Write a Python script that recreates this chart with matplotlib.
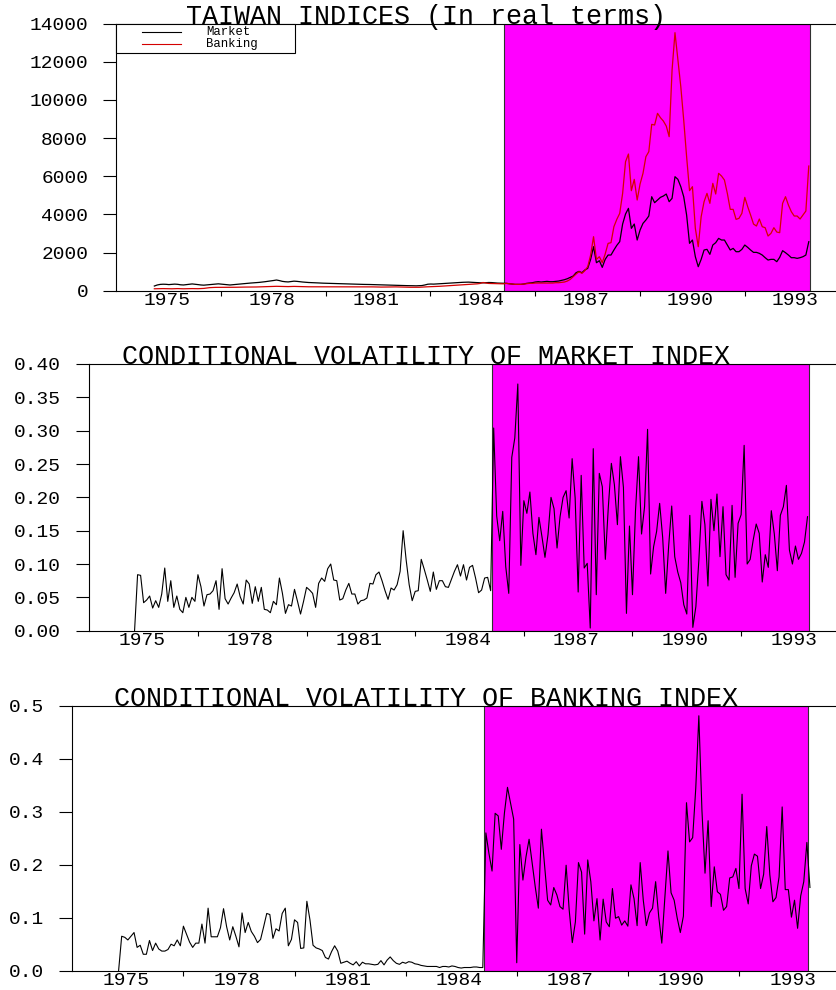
import numpy as np
import matplotlib
matplotlib.use('Agg')
import matplotlib.pyplot as plt
from matplotlib.patches import Rectangle
from matplotlib.lines import Line2D
from matplotlib.ticker import FormatStrFormatter

plt.rcParams['font.family'] = ['Liberation Mono', 'DejaVu Sans Mono']

# ---- data (monthly, decimal-year start of each series) ----
index_start = 1974.64
vol_start = 1974.80
shade_start, shade_end = 1984.67, 1993.42

year_labels = [1975, 1978, 1981, 1984, 1987, 1990, 1993]

market_index = [
    245, 300, 330, 340, 335, 320, 330, 345, 335, 310,
    300, 320, 340, 355, 340, 320, 300, 290, 305, 320,
    335, 350, 360, 345, 330, 310, 300, 315, 330, 345,
    360, 375, 390, 400, 410, 420, 435, 450, 470, 490,
    510, 535, 560, 530, 490, 470, 460, 480, 500, 490,
    470, 455, 440, 430, 425, 420, 410, 400, 395, 390,
    385, 380, 375, 370, 365, 360, 355, 350, 345, 340,
    340, 335, 330, 330, 325, 320, 315, 310, 305, 300,
    300, 295, 290, 285, 280, 275, 270, 265, 265, 260,
    255, 260, 270, 300, 340, 350, 345, 355, 370, 380,
    385, 390, 400, 410, 420, 430, 440, 445, 450, 440,
    430, 420, 415, 410, 420, 430, 425, 410, 400, 395,
    390,
    385, 367, 350, 332, 332, 332, 350, 385, 402, 420,
    455, 472, 455, 472, 490, 472, 472, 490, 507, 542,
    577, 629, 699, 769, 944, 1014, 944, 1084, 1171, 1643,
    2307, 1468, 1573, 1224, 1643, 1870, 1870, 2133, 2377, 2570,
    3496, 4020, 4318, 3269, 3496, 2657, 3181, 3531, 3706, 3916,
    4929, 4615, 4755, 4894, 4964, 5069, 4667, 4842, 5978, 5838,
    5454, 4929, 3968, 2482, 2657, 1783, 1258, 1643, 2133, 2168,
    1905, 2395, 2517, 2744, 2657, 2657, 2395, 2133, 2220, 2045,
    2045, 2168, 2395, 2272, 2133, 2010, 2010, 1958, 1870, 1731,
    1608, 1643, 1643, 1521, 1748, 2098, 1993, 1870, 1731, 1731,
    1696, 1731, 1783, 1870, 2570,
]

banking_index = [
    100, 105, 105, 110, 105, 100, 100, 105, 110, 105,
    100, 105, 110, 110, 105, 105, 110, 120, 140, 160,
    170, 175, 175, 170, 175, 180, 180, 175, 180, 185,
    185, 190, 190, 185, 190, 195, 200, 205, 210, 215,
    220, 225, 230, 225, 220, 215, 215, 220, 225, 220,
    215, 210, 210, 205, 205, 210, 210, 205, 205, 200,
    200, 205, 205, 210, 210, 205, 205, 200, 200, 205,
    205, 210, 210, 205, 200, 200, 195, 195, 190, 190,
    195, 195, 200, 200, 195, 190, 185, 185, 180, 180,
    175, 180, 190, 200, 205, 210, 215, 220, 230, 240,
    250, 260, 270, 280, 290, 300, 310, 320, 330, 340,
    350, 360, 380, 430, 400, 380, 375, 370, 365, 360,
    360,
    385, 367, 350, 332, 332, 332, 350, 367, 385, 385,
    402, 402, 402, 402, 402, 402, 402, 420, 420, 437,
    455, 507, 594, 734, 874, 996, 909, 1049, 1259, 1870,
    2832, 1643, 1783, 1468, 1923, 2482, 2517, 3356, 3741, 4055,
    5104, 6765, 7167, 5244, 5838, 4755, 5594, 6153, 7027, 7289,
    8722, 8688, 9300, 9072, 8897, 8635, 8076, 11572, 13530, 12096,
    10698, 8950, 7027, 5244, 5454, 3269, 2307, 3881, 4667, 5104,
    4580, 5629, 5069, 6153, 6013, 5803, 5104, 4265, 4265, 3741,
    3793, 4055, 4894, 4405, 3968, 3496, 3391, 3758, 3356, 3304,
    2867, 3007, 3304, 3076, 3042, 4580, 4929, 4492, 4143, 3916,
    3916, 3758, 3968, 4178, 6537,
]

market_vol = [
    0.0, 0.084, 0.083, 0.042, 0.046, 0.052, 0.034, 0.045, 0.035, 0.055,
    0.094, 0.044, 0.075, 0.035, 0.052, 0.032, 0.027, 0.050, 0.035, 0.050,
    0.044, 0.084, 0.066, 0.037, 0.054, 0.055, 0.060, 0.075, 0.032, 0.093,
    0.048, 0.040, 0.049, 0.057, 0.070, 0.051, 0.040, 0.076, 0.070, 0.041,
    0.066, 0.044, 0.065, 0.032, 0.031, 0.027, 0.044, 0.039, 0.079, 0.056,
    0.026, 0.039, 0.037, 0.062, 0.044, 0.025, 0.044, 0.065, 0.061, 0.056,
    0.035, 0.071, 0.079, 0.074, 0.093, 0.100, 0.076, 0.075, 0.046, 0.048,
    0.061, 0.071, 0.055, 0.055, 0.040, 0.045, 0.046, 0.049, 0.071, 0.070,
    0.084, 0.088, 0.075, 0.060, 0.047, 0.064, 0.061, 0.069, 0.089, 0.150,
    0.106, 0.069, 0.045, 0.059, 0.060, 0.107, 0.092, 0.076, 0.059, 0.088,
    0.062, 0.075, 0.075, 0.066, 0.065, 0.077, 0.089, 0.099, 0.082, 0.099,
    0.076, 0.095, 0.098, 0.079, 0.057, 0.061, 0.079, 0.080, 0.060,
    0.304, 0.172, 0.135, 0.179, 0.096, 0.056, 0.260, 0.289, 0.370, 0.098,
    0.195, 0.176, 0.208, 0.146, 0.114, 0.170, 0.141, 0.110, 0.144, 0.200,
    0.183, 0.124, 0.171, 0.200, 0.210, 0.169, 0.258, 0.199, 0.058, 0.233,
    0.094, 0.101, 0.004, 0.273, 0.054, 0.236, 0.216, 0.107, 0.186, 0.251,
    0.219, 0.159, 0.261, 0.215, 0.026, 0.157, 0.054, 0.180, 0.261, 0.145,
    0.186, 0.302, 0.085, 0.126, 0.149, 0.191, 0.140, 0.056, 0.128, 0.187,
    0.111, 0.088, 0.072, 0.039, 0.025, 0.173, 0.005, 0.036, 0.106, 0.194,
    0.159, 0.067, 0.197, 0.150, 0.205, 0.111, 0.186, 0.084, 0.076, 0.188,
    0.080, 0.161, 0.174, 0.278, 0.100, 0.107, 0.136, 0.160, 0.146, 0.073,
    0.114, 0.095, 0.180, 0.145, 0.090, 0.173, 0.186, 0.218, 0.121, 0.100,
    0.127, 0.107, 0.116, 0.133, 0.171,
]

banking_vol = [
    0.0, 0.065, 0.063, 0.058, 0.065, 0.072, 0.044, 0.048, 0.031, 0.031,
    0.057, 0.038, 0.052, 0.041, 0.037, 0.037, 0.040, 0.050, 0.047, 0.058,
    0.047, 0.084, 0.069, 0.054, 0.044, 0.052, 0.052, 0.088, 0.052, 0.118,
    0.064, 0.064, 0.064, 0.081, 0.117, 0.083, 0.058, 0.083, 0.065, 0.045,
    0.109, 0.072, 0.091, 0.074, 0.065, 0.053, 0.059, 0.083, 0.108, 0.106,
    0.061, 0.079, 0.075, 0.108, 0.118, 0.047, 0.059, 0.096, 0.091, 0.042,
    0.043, 0.131, 0.096, 0.048, 0.043, 0.041, 0.038, 0.025, 0.022, 0.036,
    0.047, 0.037, 0.014, 0.016, 0.018, 0.014, 0.011, 0.017, 0.009, 0.016,
    0.013, 0.013, 0.012, 0.011, 0.012, 0.019, 0.011, 0.020, 0.026, 0.019,
    0.014, 0.012, 0.016, 0.014, 0.017, 0.016, 0.013, 0.012, 0.010, 0.009,
    0.008, 0.008, 0.008, 0.008, 0.006, 0.008, 0.008, 0.007, 0.009, 0.008,
    0.006, 0.005, 0.006, 0.006, 0.006, 0.007, 0.007, 0.006, 0.006,
    0.260, 0.221, 0.188, 0.297, 0.292, 0.229, 0.297, 0.346, 0.316, 0.286,
    0.015, 0.238, 0.171, 0.215, 0.248, 0.203, 0.158, 0.118, 0.267, 0.199,
    0.133, 0.124, 0.157, 0.143, 0.121, 0.116, 0.199, 0.114, 0.053, 0.092,
    0.204, 0.186, 0.069, 0.209, 0.168, 0.094, 0.136, 0.058, 0.135, 0.092,
    0.083, 0.155, 0.099, 0.102, 0.086, 0.094, 0.084, 0.162, 0.136, 0.085,
    0.204, 0.133, 0.085, 0.109, 0.118, 0.168, 0.102, 0.052, 0.140, 0.226,
    0.147, 0.133, 0.099, 0.072, 0.103, 0.317, 0.243, 0.251, 0.344, 0.481,
    0.303, 0.184, 0.283, 0.121, 0.196, 0.149, 0.144, 0.114, 0.121, 0.175,
    0.177, 0.193, 0.155, 0.333, 0.155, 0.126, 0.198, 0.220, 0.216, 0.155,
    0.182, 0.272, 0.181, 0.130, 0.138, 0.177, 0.309, 0.153, 0.153, 0.101,
    0.133, 0.080, 0.141, 0.168, 0.242, 0.157,
]

index_t = index_start + np.arange(len(market_index)) / 12
mvol_t = vol_start + np.arange(len(market_vol)) / 12
bvol_t = vol_start + np.arange(len(banking_vol)) / 12

# ---- figure layout in pixels ----
W, H = 836, 990
fig = plt.figure(figsize=(W / 100, H / 100), dpi=100)


def px_rect(left, top, right, bottom):
    return [left / W, 1 - bottom / H, (right - left) / W, (bottom - top) / H]


def style_axes(ax, ymax, ystep, fmt):
    ax.set_xlim(1973.55, 1994.17)
    ax.set_ylim(0, ymax)
    ax.axvspan(shade_start, shade_end, facecolor='#ff00ff', edgecolor='#303030',
               lw=0.8, zorder=1)
    ax.spines['right'].set_visible(False)
    for s in ['left', 'top', 'bottom']:
        ax.spines[s].set_linewidth(0.8)
        ax.spines[s].set_zorder(3)
    ax.set_yticks(np.arange(0, ymax + ystep / 2, ystep))
    ax.yaxis.set_major_formatter(FormatStrFormatter(fmt))
    ax.set_xticks(year_labels)
    ax.set_xticks([y + 1.55 for y in year_labels[:-1]], minor=True)
    ax.tick_params(axis='y', direction='out', length=9.4, width=0.8, pad=10.8,
                   labelsize=14)
    ax.tick_params(axis='x', which='major', length=0, pad=1, labelsize=14)
    ax.tick_params(axis='x', which='minor', direction='out', length=3.5, width=0.8)


# Panel 1: indices
ax1 = fig.add_axes(px_rect(116.3, 23.7, 836, 290.7))
style_axes(ax1, 14000, 2000, '%d')
ax1.plot(index_t, market_index, color='black', lw=0.9, zorder=2)
ax1.plot(index_t, banking_index, color='#d40000', lw=0.9, zorder=2)

# Panel 2: market volatility
ax2 = fig.add_axes(px_rect(89.3, 364, 836, 630.7))
style_axes(ax2, 0.40, 0.05, '%.2f')
ax2.plot(mvol_t, market_vol, color='black', lw=0.8, zorder=2)

# Panel 3: banking volatility
ax3 = fig.add_axes(px_rect(72.3, 705.7, 836, 970.7))
style_axes(ax3, 0.5, 0.1, '%.1f')
ax3.plot(bvol_t, banking_vol, color='black', lw=0.8, zorder=2)

# titles sitting on the top frame line
titles = [('TAIWAN INDICES (In real terms)', 23.7),
          ('CONDITIONAL VOLATILITY OF MARKET INDEX', 364),
          ('CONDITIONAL VOLATILITY OF BANKING INDEX', 705.7)]
for text, ypx in titles:
    fig.text(425.5 / W, 1 - ypx / H, text, ha='center', va='baseline',
             fontsize=19.25)

# legend box (top left of first panel)
fig.add_artist(Rectangle((116.3 / W, 1 - 53 / H), (294.7 - 116.3) / W, (53 - 23.7) / H,
                         transform=fig.transFigure, facecolor='white',
                         edgecolor='black', lw=0.8, zorder=5))
for label, color, ypx in [('Market', 'black', 31.8), ('Banking', '#d40000', 44.0)]:
    fig.add_artist(Line2D([142 / W, 181 / W], [1 - ypx / H] * 2, color=color, lw=0.8,
                          transform=fig.transFigure, zorder=6))
    fig.text(206 / W, 1 - ypx / H, label, va='center', ha='left', fontsize=8.8,
             zorder=6)

fig.savefig('out.png', dpi=100)
